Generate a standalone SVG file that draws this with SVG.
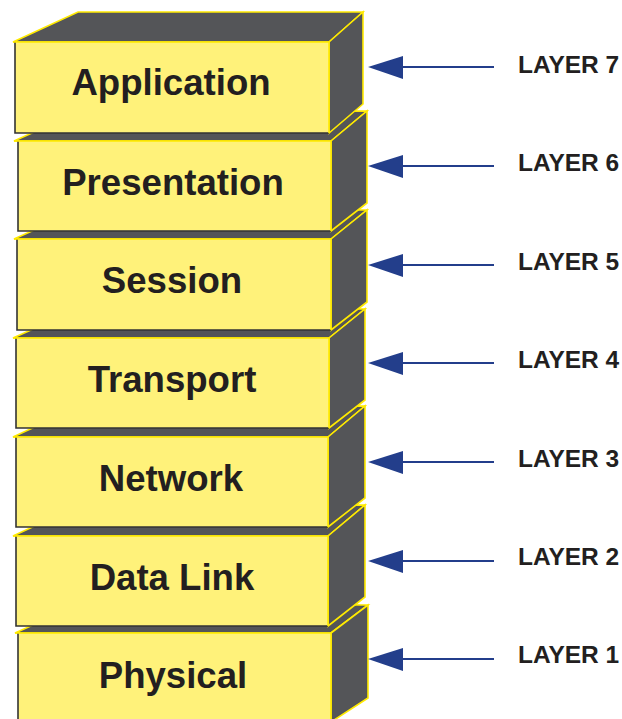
<svg xmlns="http://www.w3.org/2000/svg" width="622" height="719" viewBox="0 0 622 719">
<style>
.top{fill:#545558;stroke:#FFEA00;stroke-width:1.6;stroke-linejoin:miter}
.side{fill:#545558;stroke:#FFEA00;stroke-width:1.6;stroke-linejoin:miter}
.front{fill:#FFF27A}
.dk{fill:none;stroke:#333333;stroke-width:1.6}
.yl{fill:none;stroke:#FFEA00;stroke-width:1.6}
.lbl{font-family:"Liberation Sans",Arial,sans-serif;font-weight:bold;font-size:36.6px;fill:#231F20;text-anchor:middle}
.lay{font-family:"Liberation Sans",Arial,sans-serif;font-weight:bold;font-size:24.5px;fill:#231F20}
.arr{stroke:#233E8B;stroke-width:2.2;fill:none}
.head{fill:#233E8B}
</style>
<rect width="622" height="719" fill="#FFFFFF"/>
<g id="physical">
<polygon class="top" points="15,633 80,604 368,605 331,633"/>
<polygon class="side" points="331,633 368,605 368,698 331,722"/>
<rect class="front" x="18" y="633" width="313" height="89"/>
<polyline class="dk" points="18,633 18,722"/>
<polyline class="yl" points="15,633 331,633 331,722"/>
<text class="lbl" x="173" y="688">Physical</text>
</g>
<g id="datalink">
<polygon class="top" points="13,536 78,506 365,505 328,536"/>
<polygon class="side" points="328,536 365,505 365,597 328,626"/>
<rect class="front" x="16" y="536" width="312" height="90"/>
<polyline class="dk" points="16,536 16,626 328,626"/>
<polyline class="yl" points="13,536 328,536 328,626"/>
<text class="lbl" x="172" y="590">Data Link</text>
</g>
<g id="network">
<polygon class="top" points="13,437 78,407 365,406 328,437"/>
<polygon class="side" points="328,437 365,406 365,498 328,527"/>
<rect class="front" x="16" y="437" width="312" height="90"/>
<polyline class="dk" points="16,437 16,527 328,527"/>
<polyline class="yl" points="13,437 328,437 328,527"/>
<text class="lbl" x="171" y="491">Network</text>
</g>
<g id="transport">
<polygon class="top" points="13,338 78,309 365,309 329,338"/>
<polygon class="side" points="329,338 365,309 365,400 329,428"/>
<rect class="front" x="16" y="338" width="313" height="90"/>
<polyline class="dk" points="16,338 16,428 329,428"/>
<polyline class="yl" points="13,338 329,338 329,428"/>
<text class="lbl" x="172" y="392">Transport</text>
</g>
<g id="session">
<polygon class="top" points="14,239 79,210 367,210 331,239"/>
<polygon class="side" points="331,239 367,210 367,302 331,330"/>
<rect class="front" x="17" y="239" width="314" height="91"/>
<polyline class="dk" points="17,239 17,330 331,330"/>
<polyline class="yl" points="14,239 331,239 331,330"/>
<text class="lbl" x="172" y="293">Session</text>
</g>
<g id="presentation">
<polygon class="top" points="14,141 79,112 367,111 331,141"/>
<polygon class="side" points="331,141 367,111 367,203 331,231"/>
<rect class="front" x="18" y="141" width="313" height="90"/>
<polyline class="dk" points="18,141 18,231 331,231"/>
<polyline class="yl" points="14,141 331,141 331,231"/>
<text class="lbl" x="173" y="195">Presentation</text>
</g>
<g id="application">
<polygon class="top" points="13,42 78,12 363,12 329,42"/>
<polygon class="side" points="329,42 363,12 363,104 329,133"/>
<rect class="front" x="15" y="42" width="314" height="91"/>
<polyline class="dk" points="15,42 15,133 329,133"/>
<polyline class="yl" points="13,42 329,42 329,133"/>
<text class="lbl" x="171" y="95">Application</text>
</g>
<g id="connectors">
<line class="arr" x1="400" y1="67" x2="494" y2="67"/>
<polygon class="head" points="368,67 403,56 403,79"/>
<line class="arr" x1="400" y1="166" x2="494" y2="166"/>
<polygon class="head" points="368,166 403,155 403,178"/>
<line class="arr" x1="400" y1="265" x2="494" y2="265"/>
<polygon class="head" points="368,265 403,254 403,277"/>
<line class="arr" x1="400" y1="363" x2="494" y2="363"/>
<polygon class="head" points="368,363 403,352 403,375"/>
<line class="arr" x1="400" y1="462" x2="494" y2="462"/>
<polygon class="head" points="368,462 403,451 403,474"/>
<line class="arr" x1="400" y1="561" x2="494" y2="561"/>
<polygon class="head" points="368,561 403,550 403,573"/>
<line class="arr" x1="400" y1="659" x2="494" y2="659"/>
<polygon class="head" points="368,659 403,648 403,671"/>
</g>
<g id="layer-labels">
<text class="lay" x="518" y="73">LAYER 7</text>
<text class="lay" x="518" y="171">LAYER 6</text>
<text class="lay" x="518" y="270">LAYER 5</text>
<text class="lay" x="518" y="368">LAYER 4</text>
<text class="lay" x="518" y="467">LAYER 3</text>
<text class="lay" x="518" y="565">LAYER 2</text>
<text class="lay" x="518" y="663">LAYER 1</text>
</g>
</svg>
